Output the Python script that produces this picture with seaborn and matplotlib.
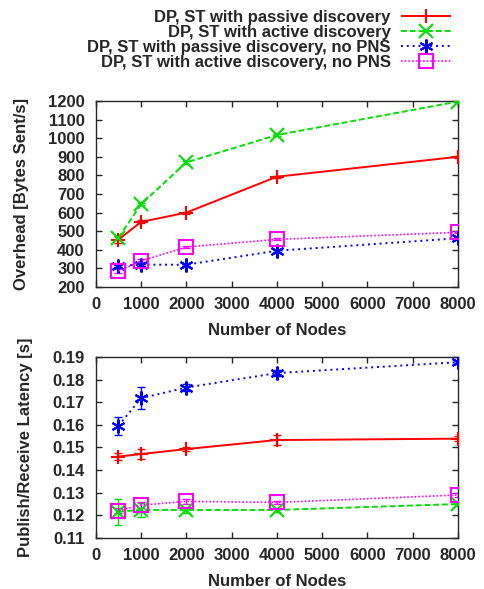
import matplotlib
matplotlib.use("Agg")
import matplotlib.pyplot as plt
from matplotlib.lines import Line2D
import seaborn as sns
import pandas as pd

nodes = [500, 1000, 2000, 4000, 8000]
series = [
    "DP, ST with passive discovery",
    "DP, ST with active discovery",
    "DP, ST with passive discovery, no PNS",
    "DP, ST with active discovery, no PNS",
]

# overhead [bytes sent/s]
overhead_passive = [455, 550, 600, 793, 900]
overhead_active = [465, 645, 870, 1017, 1197]
overhead_passive_nopns = [315, 320, 320, 395, 462]
overhead_active_nopns = [285, 340, 415, 456, 494]
overhead_err_passive = [18, 8, 6, 5, 5]
overhead_err_active = [6, 6, 6, 6, 5]
overhead_err_passive_nopns = [5, 5, 5, 5, 5]
overhead_err_active_nopns = [10, 8, 6, 5, 5]

# publish/receive latency [s]
latency_passive = [0.1460, 0.1471, 0.1493, 0.1533, 0.1539]
latency_active = [0.1216, 0.1224, 0.1224, 0.1224, 0.1250]
latency_passive_nopns = [0.1596, 0.1718, 0.1765, 0.1829, 0.1877]
latency_active_nopns = [0.1221, 0.1245, 0.1262, 0.1257, 0.1290]
latency_err_passive = [0.0015, 0.0022, 0.0010, 0.0022, 0.0010]
latency_err_active = [0.0058, 0.0030, 0.0012, 0.0010, 0.0008]
latency_err_passive_nopns = [0.0040, 0.0050, 0.0015, 0.0012, 0.0006]
latency_err_active_nopns = [0.0012, 0.0012, 0.0012, 0.0008, 0.0008]

colors = ["#ff0000", "#00e000", "#0000ff", "#ff00ff"]
markers = ["+", "x", (6, 2, 0), "s"]
dashes = [(1, 0), (3, 1.5), (1, 2), (1, 1.2)]
widths = [1.4, 1.4, 1.4, 1.2]
FS = 12


def long_frame(values, errors):
    rows = []
    for name, vals, errs in zip(series, values, errors):
        for n, v, e in zip(nodes, vals, errs):
            rows.append({"nodes": n, "value": v, "err": e, "series": name})
    return pd.DataFrame(rows)


top = long_frame(
    [overhead_passive, overhead_active, overhead_passive_nopns, overhead_active_nopns],
    [overhead_err_passive, overhead_err_active, overhead_err_passive_nopns, overhead_err_active_nopns],
)
bottom = long_frame(
    [latency_passive, latency_active, latency_passive_nopns, latency_active_nopns],
    [latency_err_passive, latency_err_active, latency_err_passive_nopns, latency_err_active_nopns],
)

sns.set_style("ticks")
plt.rcParams["font.family"] = ["Liberation Sans", "DejaVu Sans"]
plt.rcParams["font.weight"] = "bold"
plt.rcParams["font.size"] = FS

fig = plt.figure(figsize=(4.84, 5.89), dpi=100)
ax1 = fig.add_axes([0.198, 0.5127, 0.748, 0.3158])
ax2 = fig.add_axes([0.198, 0.0866, 0.748, 0.3073])


def draw(ax, df):
    for name, c, m, d, w in zip(series, colors, markers, dashes, widths):
        sub = df[df["series"] == name]
        ax.errorbar(sub["nodes"], sub["value"], yerr=sub["err"], fmt="none",
                    ecolor=c, elinewidth=1.0, capsize=3, capthick=1.0,
                    linestyle=(0, d), zorder=2)
        sns.lineplot(data=sub, x="nodes", y="value", color=c, marker=m,
                     markersize=10, markerfacecolor="none", markeredgecolor=c,
                     markeredgewidth=1.5, linewidth=w, dashes=d,
                     legend=False, ax=ax, zorder=3)
    ax.set_xlim(0, 8000)
    ax.set_xticks(range(0, 8001, 1000))
    ax.set_xlabel("Number of Nodes", fontweight="bold", fontsize=FS, labelpad=8)
    ax.tick_params(direction="in", top=True, right=True, length=4, width=1,
                   labelsize=FS)
    ax.tick_params(axis="y", pad=8)
    ax.tick_params(axis="x", pad=7)
    for s in ax.spines.values():
        s.set_linewidth(1.0)
        s.set_visible(True)
    for lab in ax.get_xticklabels() + ax.get_yticklabels():
        lab.set_fontweight("bold")


draw(ax1, top)
ax1.set_ylim(200, 1200)
ax1.set_yticks(range(200, 1201, 100))
ax1.set_ylabel("Overhead [Bytes Sent/s]", fontweight="bold", fontsize=FS,
               labelpad=14)

draw(ax2, bottom)
ax2.set_ylim(0.11, 0.19)
ax2.set_yticks([0.11, 0.12, 0.13, 0.14, 0.15, 0.16, 0.17, 0.18, 0.19])
ax2.set_yticklabels([f"{t:.2f}" for t in ax2.get_yticks()], fontweight="bold")
ax2.set_ylabel("Publish/Receive Latency [s]", fontweight="bold", fontsize=FS,
               labelpad=14)

handles = [
    Line2D([0], [0], color=c, marker=m, linestyle=(0, d), linewidth=w,
           markersize=10, markerfacecolor="none", markeredgewidth=1.5)
    for c, m, d, w in zip(colors, markers, dashes, widths)
]
fig.legend(handles, series, loc="upper right", bbox_to_anchor=(0.962, 1.009),
           frameon=False, markerfirst=False, handlelength=3.0,
           handletextpad=0.6, labelspacing=0.0,
           prop={"weight": "bold", "size": FS})

fig.savefig("out.png", dpi=100)
